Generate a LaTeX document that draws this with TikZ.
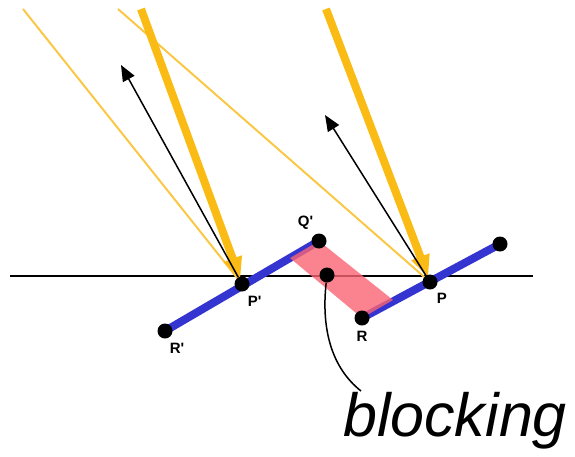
\documentclass[tikz,border=0pt]{standalone}
\usepackage{fontspec}
\setmainfont{Liberation Sans}
\usepackage{xcolor}
\usepackage{tikz}
\usetikzlibrary{arrows.meta,backgrounds}
\definecolor{rayyellow}{RGB}{250,188,20}
\definecolor{thinyellow}{RGB}{250,200,70}
\definecolor{mirrorblue}{RGB}{52,52,208}
\definecolor{blockpink}{RGB}{250,100,115}
\tikzstyle{pt}=[circle, fill=black, inner sep=0pt, minimum size=15pt]
\tikzstyle{lbl}=[font=\fontsize{15}{17}\selectfont\bfseries, inner sep=1pt, label distance=4pt]
\tikzstyle{ray}=[line width=8pt, draw=rayyellow, -{Triangle[width=18pt,length=22pt]}]
\tikzstyle{thinray}=[line width=2pt, draw=thinyellow]
\tikzstyle{normal}=[line width=1.5pt, -{Triangle[width=13pt,length=16pt]}]
\tikzstyle{mirror}=[line width=8pt, draw=mirrorblue]

\begin{document}
\begin{tikzpicture}[x=1pt,y=-1pt]
\useasboundingbox (0,0) rectangle (575,456);
% points on the two facets
\node[pt, label={[lbl]113:{Q\textquotesingle}}] (Qp) at (319,241) {};
\node[pt, label={[lbl]-66:{P\textquotesingle}}] (Pp) at (242,284) {};
\node[pt, label={[lbl]-72:{R\textquotesingle}}] (Rp) at (165,331) {};
\node[pt, label={[lbl]-61:{P}}] (P) at (430,282) {};
\node[pt, label={[lbl]below:{R}}] (R) at (362,318) {};
\node[pt] (Q) at (500,244) {};
\node[pt] (B) at (327,275) {};
\node[font=\fontsize{61}{63}\selectfont\itshape] (blk) at (455,421) {blocking};
\coordinate (L) at (10,276);
\coordinate (Rt) at (533,276);
\coordinate (s1) at (141,9);
\coordinate (s2) at (326,9);
\coordinate (t1) at (23,9);
\coordinate (t2) at (118,9);
\coordinate (n1) at (121,65);
\coordinate (n2) at (325,115);
\coordinate (tail) at (361,391);
\coordinate (c1) at (290,258);
\coordinate (c2) at (393,300);
\begin{scope}[on background layer]
\draw[line width=1.8pt] (L) -- (Rt);
\draw[thinray] (t1) -- (Pp.center);
\draw[thinray] (t2) -- (P.center);
\draw[ray, shorten >=5pt] (s1) -- (Pp.center);
\draw[ray, shorten >=5pt] (s2) -- (P.center);
\draw[normal] (Pp) -- (n1);
\draw[normal] (P) -- (n2);
\draw[mirror] (Rp.center) -- (Qp.center);
\draw[mirror] (R.center) -- (Q.center);
\fill[blockpink, fill opacity=0.8] (c1) -- (Qp.center) -- (c2) -- (R.center) -- cycle;
\end{scope}
\draw[line width=1.5pt] (B) .. controls (321,330) and (332,368) .. (tail);
\end{tikzpicture}
\end{document}
